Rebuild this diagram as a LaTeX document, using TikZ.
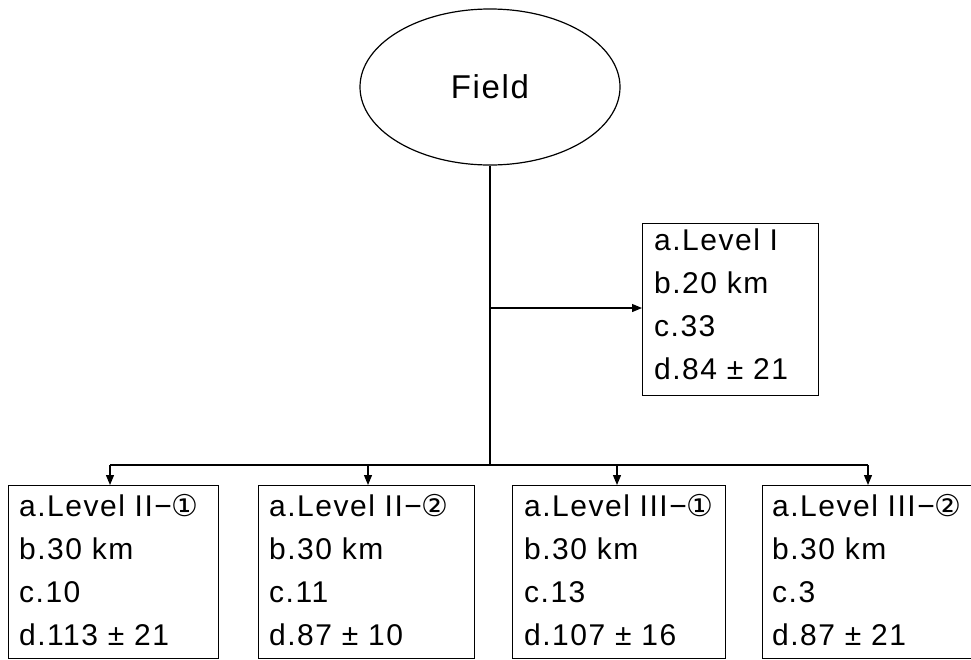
\documentclass[tikz,border=0pt]{standalone}
\usepackage{fontspec}
\setmainfont{Liberation Sans}[LetterSpace=5]
\newfontfamily\symfont{DejaVu Sans}
\usetikzlibrary{shapes.geometric,arrows.meta}
\tikzset{
  lbox/.style={draw, line width=1.2pt, anchor=north west, inner sep=0pt},
  ltxt/.style={anchor=north west, inner sep=0pt, align=left, font=\fontsize{30}{43}\selectfont},
  conn/.style={line width=1.2pt},
  arr/.style={line width=1.2pt, -{Triangle[length=10pt,width=8pt]}}
}
\newcommand{\cA}{{\symfont\fontsize{30}{43}\selectfont ①}}
\newcommand{\cB}{{\symfont\fontsize{30}{43}\selectfont ②}}
\begin{document}
\begin{tikzpicture}[x=1pt,y=-1pt]
\useasboundingbox (0,0) rectangle (971,659);
\clip (0,0) rectangle (971,659);
% ellipse
\node[ellipse, draw, line width=1.2pt, minimum width=260pt, minimum height=156pt, inner sep=0pt,
      font=\fontsize{33}{38}\selectfont] (field) at (490,87) {Field};
% box I
\node[lbox, minimum width=176pt, minimum height=172pt] (bI) at (642,223) {};
\node[ltxt] (tI) at (654,229) {a.Level I\\b.20 km\\c.33\\d.84 ± 21};
% bottom boxes
\node[lbox, minimum width=210pt, minimum height=173pt] (b1) at (8,485) {};
\node[lbox, minimum width=216pt, minimum height=173pt] (b2) at (258,485) {};
\node[lbox, minimum width=213pt, minimum height=173pt] (b3) at (512,485) {};
\node[lbox, minimum width=220pt, minimum height=173pt] (b4) at (762,485) {};
\node[ltxt] (t1) at (19,494) {a.Level II−\cA\\b.30 km\\c.10\\d.113 ± 21};
\node[ltxt] (t2) at (269,494) {a.Level II−\cB\\b.30 km\\c.11\\d.87 ± 10};
\node[ltxt] (t3) at (524,494) {a.Level III−\cA\\b.30 km\\c.13\\d.107 ± 16};
\node[ltxt] (t4) at (772,494) {a.Level III−\cB\\b.30 km\\c.3\\d.87 ± 21};
% connectors
\coordinate (j) at (490,465);
\coordinate (m) at (490,308);
\draw[conn] (field.south) -- (j);
\draw[arr] (m) -- (bI.west |- m);
\coordinate (l) at (110,465);
\coordinate (r) at (868,465);
\draw[conn] (l) -- (r);
\draw[arr] (l) -- (l |- b1.north);
\draw[arr] (368,465) -- (368,485);
\draw[arr] (617,465) -- (617,485);
\draw[arr] (r) -- (r |- b4.north);
\end{tikzpicture}
\end{document}
